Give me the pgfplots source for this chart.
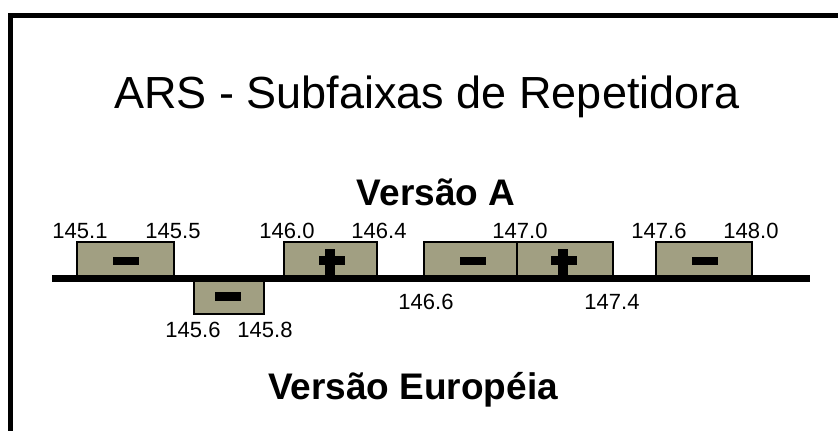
\documentclass[border=0pt]{standalone}
\usepackage{pgfplots}
\pgfplotsset{compat=1.18}
\usepackage{fontspec}
\setmainfont{Liberation Sans}
\definecolor{boxc}{RGB}{161,159,130}
\begin{document}
\begin{tikzpicture}
\begin{axis}[width=419pt,height=215pt,scale only axis,
  xmin=0,xmax=838,ymin=0,ymax=430,y dir=reverse,
  hide axis,no markers,clip=true]
% invisible bounding points
\addplot[draw=none] coordinates {(0,0) (838,430)};
% frame
\addplot[black,line width=2.5pt] coordinates {(10.5,440) (10.5,15.5) (850,15.5)};
% boxes (Versao A above, Versao Europeia below)
\addplot[fill=boxc,draw=black,line width=0.9pt] coordinates {(77,242) (174,242) (174,276) (77,276)} -- cycle;
\addplot[fill=boxc,draw=black,line width=0.9pt] coordinates {(194,280) (264,280) (264,314) (194,314)} -- cycle;
\addplot[fill=boxc,draw=black,line width=0.9pt] coordinates {(284,242) (377,242) (377,276) (284,276)} -- cycle;
\addplot[fill=boxc,draw=black,line width=0.9pt] coordinates {(424,242) (517,242) (517,276) (424,276)} -- cycle;
\addplot[fill=boxc,draw=black,line width=0.9pt] coordinates {(517,242) (613,242) (613,276) (517,276)} -- cycle;
\addplot[fill=boxc,draw=black,line width=0.9pt] coordinates {(656,242) (752,242) (752,276) (656,276)} -- cycle;
% main line
\addplot[black,line width=3.5pt] coordinates {(52,278) (810,278)};
% minus signs
\addplot[fill=black,draw=none] coordinates {(113,257) (139,257) (139,265) (113,265)} -- cycle;
\addplot[fill=black,draw=none] coordinates {(215,292) (241,292) (241,301) (215,301)} -- cycle;
\addplot[fill=black,draw=none] coordinates {(460,257) (486,257) (486,265) (460,265)} -- cycle;
\addplot[fill=black,draw=none] coordinates {(692,257) (718,257) (718,265) (692,265)} -- cycle;
% plus signs
\addplot[fill=black,draw=none] coordinates {(319,256) (345,256) (345,265) (319,265)} -- cycle;
\addplot[fill=black,draw=none] coordinates {(325,249) (335,249) (335,276) (325,276)} -- cycle;
\addplot[fill=black,draw=none] coordinates {(551,256) (577,256) (577,265) (551,265)} -- cycle;
\addplot[fill=black,draw=none] coordinates {(558,249) (568,249) (568,276) (558,276)} -- cycle;
% texts
\node[anchor=base,inner sep=0pt,font=\fontsize{22.5}{27}\selectfont] at (axis cs:427,108) {ARS - Subfaixas de Repetidora};
\node[anchor=base,inner sep=0pt,font=\fontsize{18.5}{22}\selectfont\bfseries] at (axis cs:436,205) {Versão A};
\node[anchor=base,inner sep=0pt,font=\fontsize{18.5}{22}\selectfont\bfseries] at (axis cs:413,399) {Versão Européia};
\begin{scope}[every node/.style={anchor=base,inner sep=0pt,font=\fontsize{11}{13}\selectfont}]
\node at (axis cs:80,238) {145.1};
\node at (axis cs:173,238) {145.5};
\node at (axis cs:287,238) {146.0};
\node at (axis cs:379,238) {146.4};
\node at (axis cs:520,238) {147.0};
\node at (axis cs:659,238) {147.6};
\node at (axis cs:751,238) {148.0};
\node at (axis cs:193,337) {145.6};
\node at (axis cs:265,337) {145.8};
\node at (axis cs:426,309) {146.6};
\node at (axis cs:612,309) {147.4};
\end{scope}
\end{axis}
\end{tikzpicture}
\end{document}
